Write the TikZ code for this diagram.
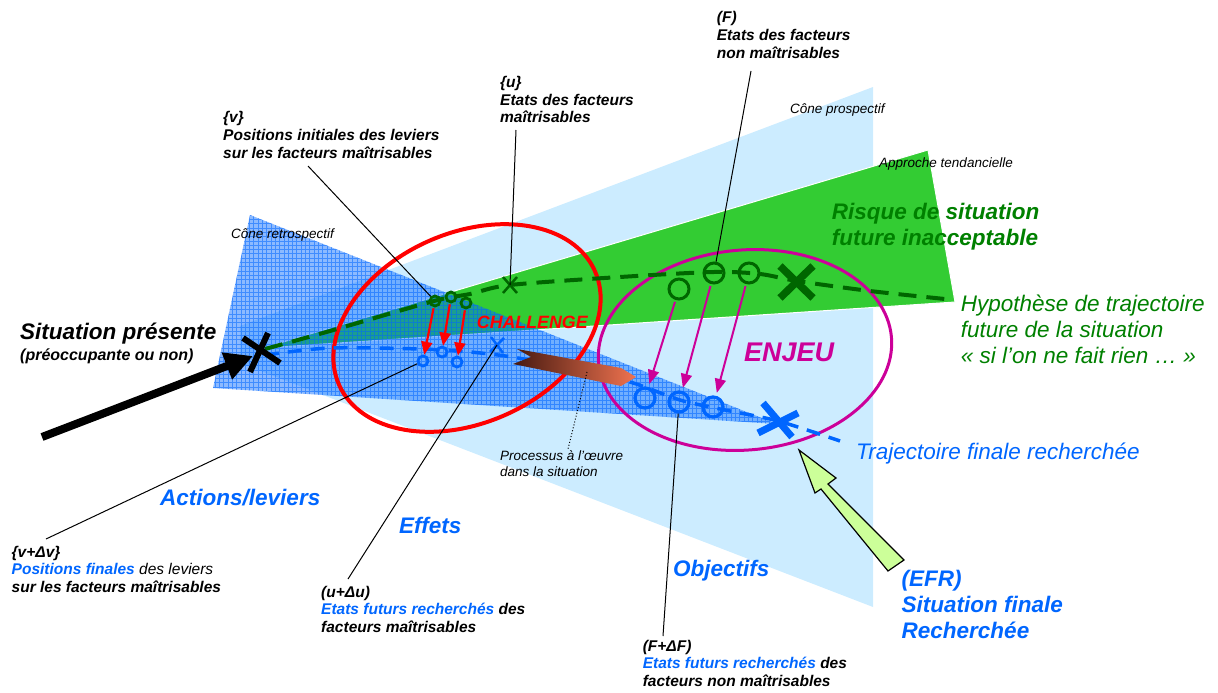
\documentclass[tikz,border=0pt]{standalone}
\usepackage{fontspec}
\setmainfont{Liberation Sans}
\usetikzlibrary{arrows.meta}

\definecolor{cielbleu}{RGB}{204,236,255}
\definecolor{vertband}{RGB}{51,204,51}
\definecolor{vertfonce}{RGB}{0,102,0}
\definecolor{verttexte}{RGB}{0,128,0}
\definecolor{bleuvif}{RGB}{0,102,255}
\definecolor{magenj}{RGB}{204,0,153}
\definecolor{vertpale}{RGB}{204,255,153}
\definecolor{brunfonce}{RGB}{70,25,15}
\definecolor{saumon}{RGB}{240,115,80}

\begin{document}
\begin{tikzpicture}[x=1pt, y=-1pt,
  lbl/.style={anchor=base west, inner sep=0pt, font=\fontsize{15.5}{18}\selectfont\bfseries\itshape},
  big/.style={anchor=base west, inner sep=0pt, font=\fontsize{22.5}{26}\selectfont\bfseries\itshape},
  note/.style={anchor=base west, inner sep=0pt, font=\fontsize{13.5}{16}\selectfont\itshape},
  hypo/.style={anchor=base west, inner sep=0pt, text=verttexte, font=\fontsize{22.5}{26}\selectfont\itshape},
  leader/.style={line width=1pt},
  gsmall/.style={circle, draw=vertfonce, line width=2.8pt, minimum size=10pt, inner sep=0pt},
  bsmall/.style={circle, draw=bleuvif, line width=2.8pt, minimum size=10pt, inner sep=0pt},
  gbig/.style={circle, draw=vertfonce, line width=3pt, minimum size=20pt, inner sep=0pt},
  bbig/.style={circle, draw=bleuvif, line width=3.3pt, minimum size=20pt, inner sep=0pt},
  redarr/.style={red, line width=2.2pt, -{Triangle[length=13pt,width=11pt]}, shorten <=1pt},
  magarr/.style={magenj, line width=2pt, -{Triangle[length=14pt,width=11pt]}, shorten <=2pt, shorten >=3pt},
  gdash/.style={vertfonce, line width=4pt, dash pattern=on 18pt off 10pt},
  bdash/.style={bleuvif, line width=3.5pt, dash pattern=on 14pt off 9pt}]

\useasboundingbox (0,0) rectangle (1218,693);

% ── Cones ─────────────────────────────────────────────────────
\fill[cielbleu] (240,326) -- (873,87) -- (873,607) -- (240,363) -- cycle;
\filldraw[fill=vertband, draw=white, line width=1pt] (263,348) -- (928,150) -- (955,302) -- cycle;
\begin{scope}
  \clip (250,215) -- (213,388) -- (777,424) -- cycle;
  \fill[bleuvif, opacity=.45] (200,430) rectangle (790,200);
  \draw[bleuvif, opacity=.55, line width=.5pt, step=4.3pt] (200,430) grid (790,200);
\end{scope}

\node[note] (retro) at (231,238.5) {Cône retrospectif};
\node[note] (prosp) at (790,113) {Cône prospectif};
\node[note] (tend)  at (879,167) {Approche tendancielle};

% ── Challenge / enjeu ─────────────────────────────────────────
\draw[red, line width=4pt, rotate around={24:(467,328)}] (467,328) ellipse [x radius=140, y radius=95];
\draw[magenj, line width=3pt, rotate around={5:(745,350)}] (745,350) ellipse [x radius=147, y radius=100];

% ── Trajectories ──────────────────────────────────────────────
\draw[gdash] plot[smooth] coordinates {(265,349) (330,331) (434,301) (470,294) (510,285)
  (620,277) (714,272) (760,274) (797,281) (870,291) (945,299)};
\draw[bdash] plot[smooth] coordinates {(265,355) (330,348) (420,349) (470,352) (512,357)
  (570,368) (630,382) (680,400) (720,409) (778,421) (840,441)};

% ── Levers and states ─────────────────────────────────────────
\node[gsmall] (g1) at (435,301) {};
\node[gsmall] (g2) at (451,297) {};
\node[gsmall] (g3) at (466,303) {};
\node[bsmall] (b1) at (423,361) {};
\node[bsmall] (b2) at (442,352) {};
\node[bsmall] (b3) at (457,362) {};
\node[gbig] (G1) at (679,289) {};
\node[gbig] (G2) at (714,273) {};
\node[gbig] (G3) at (749,273) {};
\node[bbig] (B1) at (645,398) {};
\node[bbig] (B2) at (679,402) {};
\node[bbig] (B3) at (713,407) {};

\coordinate (tu) at (510,285);
\coordinate (tb) at (497,345);
\draw[vertfonce, line width=2.5pt] (503,277) -- (517,293) (503,293) -- (517,277);
\draw[bleuvif, line width=2.5pt] (491,337) -- (503,353) (490,352) -- (504,338);

\foreach \a/\b in {g1/b1, g2/b2, g3/b3} {
  \draw[redarr] (\a) -- (\b);
}
\foreach \a/\b in {G1/B1, G2/B2, G3/B3} {
  \draw[magarr] (\a) -- (\b);
}

% final states
\draw[vertfonce, line width=7.5pt] (780,266) -- (813,298) (780,298) -- (813,266);
\draw[bleuvif, line width=7pt] (763,403) -- (792,437) (758,433) -- (798,413);

% ── Process arrow ─────────────────────────────────────────────
\shade[left color=brunfonce, right color=saumon]
  (517,349) -- (621,368) -- (636,377) -- (621,386) -- (513,364) -- (531,357) -- cycle;
\coordinate (procA) at (587,372);
\coordinate (procB) at (568,449);
\draw[dotted, line width=1pt] (procA) -- (procB);

% ── Present situation ─────────────────────────────────────────
\coordinate (arrtail) at (42,437);
\coordinate (arrtip) at (253,356);
\draw[line width=8pt, -{Triangle[length=28pt,width=27pt]}] (arrtail) -- (arrtip);
\draw[line width=6pt] (243,338) -- (280,363) (268,333) -- (250,372);

% ── EFR arrow ─────────────────────────────────────────────────
\filldraw[fill=vertpale, draw=black, line width=1.2pt]
  (799,450) -- (836,478) -- (828,484) -- (904,560) -- (888,571) -- (821,489) -- (815,493) -- cycle;

% ── Labels ────────────────────────────────────────────────────
\node[lbl] (v0) at (223,122.7) {\{v\}};
\node[lbl] (v1) at (223,140.4) {Positions initiales des leviers};
\node[lbl] (v2) at (223,158.1) {sur les facteurs maîtrisables};
\node[lbl] (u0) at (500,87.3)  {\{u\}};
\node[lbl] (u1) at (500,105)   {Etats des facteurs};
\node[lbl] (u2) at (500,122.7) {maîtrisables};
\node[lbl] (F0) at (716.7,22.7) {(F)};
\node[lbl] (F1) at (716.7,40.4) {Etats des facteurs};
\node[lbl] (F2) at (716.7,58.1) {non maîtrisables};

\node[lbl] (dv0) at (11.5,557)   {\{v+Δv\}};
\node[lbl] (dv1) at (11.5,574.7) {{\color{bleuvif}Positions finales} {\mdseries des leviers}};
\node[lbl] (dv2) at (11.5,592.4) {sur les facteurs maîtrisables};
\node[lbl] (du0) at (321,597)   {(u+Δu)};
\node[lbl] (du1) at (321,614.7) {{\color{bleuvif}Etats futurs recherchés} des};
\node[lbl] (du2) at (321,632.4) {facteurs maîtrisables};
\node[lbl] (dF0) at (642.6,651)   {(F+ΔF)};
\node[lbl] (dF1) at (642.6,668.7) {{\color{bleuvif}Etats futurs recherchés} des};
\node[lbl] (dF2) at (642.6,686.4) {facteurs non maîtrisables};

\coordinate (vfoot)  at (308,166);
\coordinate (ufoot)  at (516,130);
\coordinate (Ffoot)  at (751,71);
\coordinate (dvfoot) at (46,539);
\coordinate (dufoot) at (348,579);
\coordinate (dFfoot) at (663,636);
\draw[leader] (vfoot) -- (g1);
\draw[leader] (ufoot) -- (tu);
\draw[leader] (Ffoot) -- (G2);
\draw[leader] (b1) -- (dvfoot);
\draw[leader] (tb) -- (dufoot);
\draw[leader] (B2) -- (dFfoot);

\node[big] (sit) at (20,339) {Situation présente};
\node[anchor=base west, inner sep=0pt, font=\fontsize{16}{19}\selectfont\bfseries\itshape] (preo) at (20,360.7) {(préoccupante ou non)};

\node[big, text=verttexte] (risk0) at (831.7,219) {Risque de situation};
\node[big, text=verttexte] (risk1) at (831.7,245.5) {future inacceptable};
\node[hypo] (hyp0) at (960.7,311.7) {Hypothèse de trajectoire};
\node[hypo] (hyp1) at (960.7,337.4) {future de la situation};
\node[hypo] (hyp2) at (960.7,363)   {« si l’on ne fait rien … »};
\node[hypo, text=bleuvif] (traj) at (856,459.3) {Trajectoire finale recherchée};

\node[anchor=base west, inner sep=0pt, text=magenj, font=\fontsize{27}{30}\selectfont\bfseries\itshape] (enjeu) at (744,361.7) {ENJEU};
\node[anchor=base west, inner sep=0pt, text=red, font=\fontsize{17.8}{20}\selectfont\bfseries\itshape] (chal) at (476.7,328.3) {CHALLENGE};

\node[note] (proc0) at (500,460)   {Processus à l’œuvre};
\node[note] (proc1) at (500,476.7) {dans la situation};

\node[big, text=bleuvif] (act)  at (160,505)   {Actions/leviers};
\node[big, text=bleuvif] (eff)  at (399,533)   {Effets};
\node[big, text=bleuvif] (obj)  at (673,576.7) {Objectifs};
\node[big, text=bleuvif] (efr0) at (901.5,586.7) {(EFR)};
\node[big, text=bleuvif] (efr1) at (901.5,612.7) {Situation finale};
\node[big, text=bleuvif] (efr2) at (901.5,638.3) {Recherchée};

\end{tikzpicture}
\end{document}
